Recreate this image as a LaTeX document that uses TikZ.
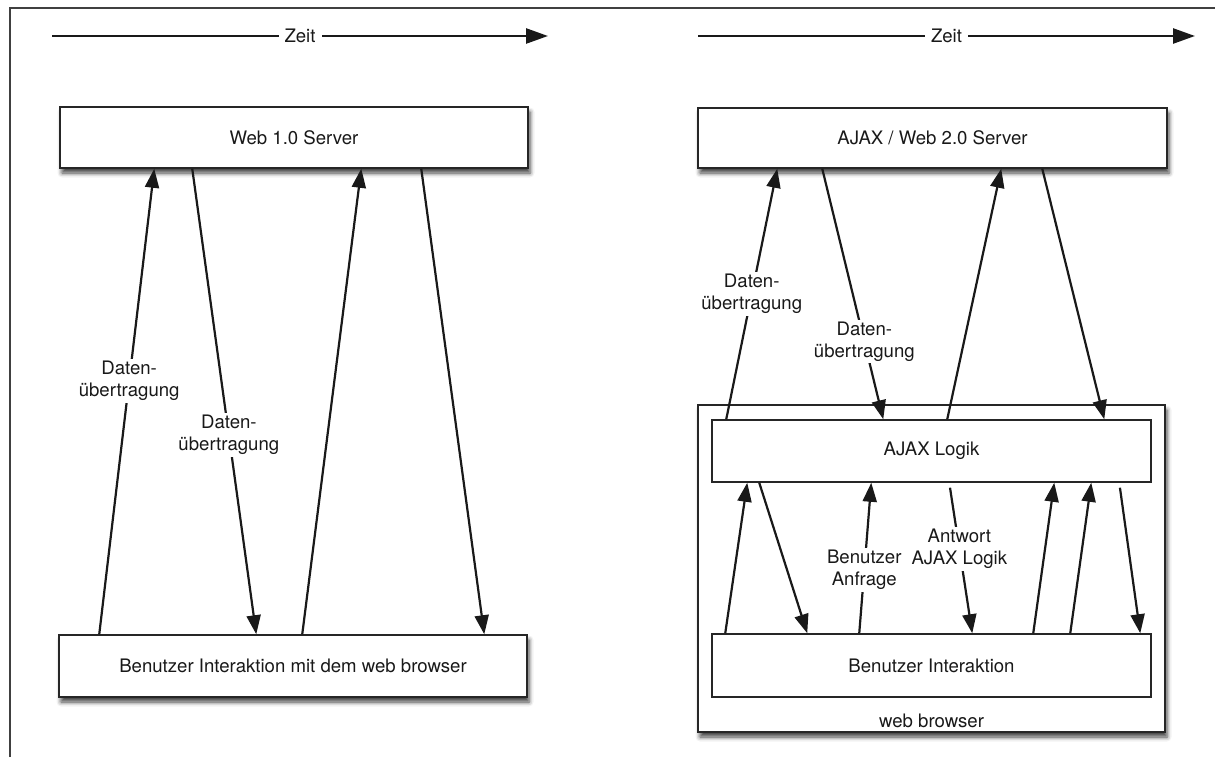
\documentclass[tikz,border=0pt]{standalone}
\usepackage{fontspec}
\setmainfont{TeX Gyre Heros}
\usetikzlibrary{arrows.meta,shadows.blur}
\begin{document}
\begin{tikzpicture}[x=1pt,y=-1pt,
  every node/.style={font=\fontsize{18.6}{22}\selectfont, text=black!90},
  box/.style={draw=black!85, line width=1.5pt, fill=white, rectangle, inner sep=0pt},
  shade/.style={blur shadow={shadow xshift=2pt, shadow yshift=-5pt,
      shadow blur radius=4.5pt, shadow opacity=75}},
  flow/.style={line width=2.2pt, draw=black!90, -{Triangle[length=19pt,width=14pt]}},
  timeline/.style={line width=2.5pt, draw=black!90, -{Triangle[length=22pt,width=15pt]}},
  tag/.style={fill=white, align=center, inner sep=2pt},
]
\useasboundingbox (0,0) rectangle (1215,765);

% page frame
\draw[line width=1.2pt, black!75] (10,757) -- (10,8) -- (1216,8);

% time axes
\coordinate (t1a) at (52,36);
\coordinate (t1b) at (548,36);
\coordinate (t2a) at (698,36);
\coordinate (t2b) at (1195,36);
\draw[timeline] (t1a) -- node[tag, inner xsep=6pt] (z1) {Zeit} (t1b);
\draw[timeline] (t2a) -- node[tag, inner xsep=6pt] (z2) {Zeit} (t2b);

% ---------- Web 1.0 ----------
\node[box, shade, minimum width=468pt, minimum height=61pt] (srv1) at (294,137.5) {Web 1.0 Server};
\node[box, shade, minimum width=468pt, minimum height=62pt] (ui1) at (293,666) {Benutzer Interaktion mit dem web browser};

\draw[flow] ([xshift=41pt]ui1.north west) -- node[tag, pos=0.544] (d1) {Daten-\\übertragung} ([xshift=95pt]srv1.south west);
\draw[flow] ([xshift=133pt]srv1.south west) -- node[tag, pos=0.572] (d2) {Daten-\\übertragung} ([xshift=198pt]ui1.north west);
\draw[flow] ([xshift=244pt]ui1.north west) -- ([xshift=302pt]srv1.south west);
\draw[flow] ([xshift=362pt]srv1.south west) -- ([xshift=426pt]ui1.north west);

% ---------- AJAX / Web 2.0 ----------
\node[box, shade, minimum width=469pt, minimum height=60pt] (srv2) at (932.5,138) {AJAX / Web 2.0 Server};
\node[box, shade, minimum width=467pt, minimum height=327pt] (browser) at (931.5,568.5) {};
\node (wb) at ([yshift=12pt]browser.south) {web browser};
\node[box, minimum width=439pt, minimum height=62pt] (logic) at (931.5,451) {AJAX Logik};
\node[box, minimum width=439pt, minimum height=63pt] (ui2) at (931.5,665.5) {Benutzer Interaktion};

% server <-> AJAX engine
\draw[flow] ([xshift=15pt]logic.north west) -- node[tag, pos=0.5] (d3) {Daten-\\übertragung} ([xshift=80pt]srv2.south west);
\draw[flow] ([xshift=125pt]srv2.south west) -- node[tag, pos=0.69] (d4) {Daten-\\übertragung} ([xshift=172pt]logic.north west);
\draw[flow] ([xshift=236pt]logic.north west) -- ([xshift=304pt]srv2.south west);
\draw[flow] ([xshift=345pt]srv2.south west) -- ([xshift=393pt]logic.north west);

% user interface <-> AJAX engine
\draw[flow] ([xshift=14pt]ui2.north west) -- ([xshift=36pt]logic.south west);
\draw[flow] ([xshift=48pt]logic.south west) -- ([xshift=96pt]ui2.north west);
\draw[flow] ([xshift=148pt]ui2.north west) -- node[tag, pos=0.42] (req) {Benutzer\\Anfrage} ([xshift=160pt]logic.south west);
\draw[flow, shorten <=5pt] ([xshift=238pt]logic.south west) -- node[tag, pos=0.44] (resp) {Antwort\\AJAX Logik} ([xshift=261pt]ui2.north west);
\draw[flow] ([xshift=322pt]ui2.north west) -- ([xshift=343pt]logic.south west);
\draw[flow] ([xshift=359pt]ui2.north west) -- ([xshift=380pt]logic.south west);
\draw[flow, shorten <=5pt] ([xshift=408pt]logic.south west) -- ([xshift=429pt]ui2.north west);
\end{tikzpicture}
\end{document}
